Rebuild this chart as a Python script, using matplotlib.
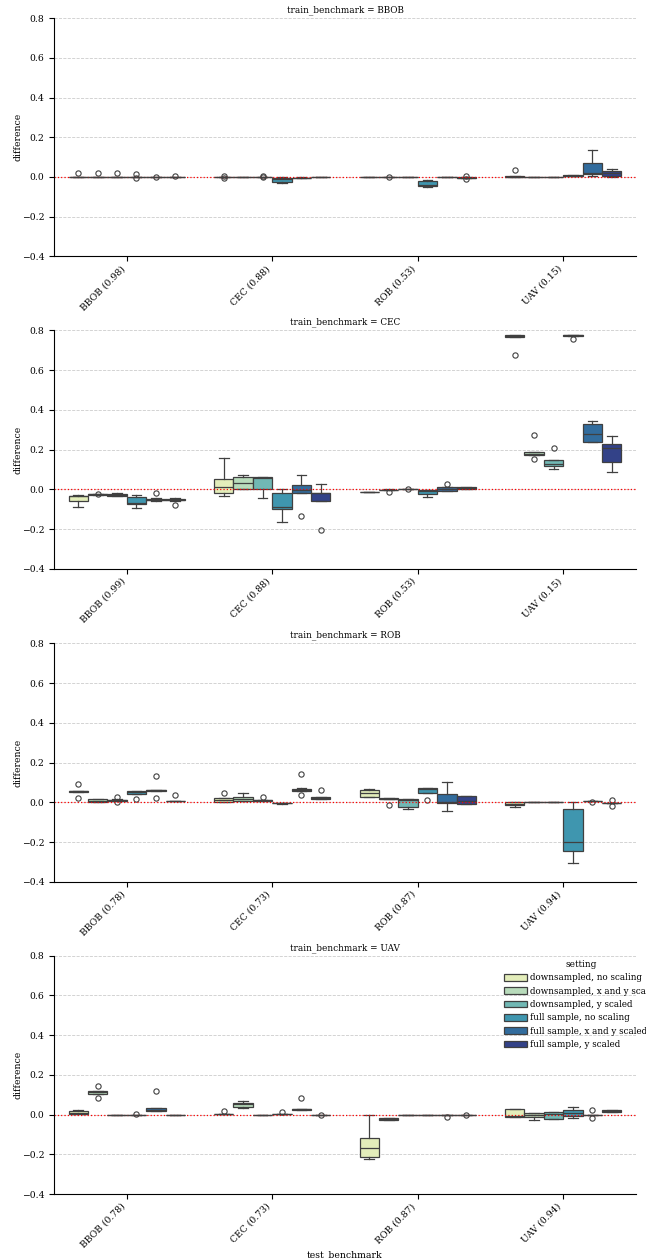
import matplotlib
matplotlib.use("Agg")
import matplotlib.pyplot as plt
import matplotlib.patches as patches
from matplotlib.transforms import Bbox, TransformedBbox
import seaborn as sns

plt.rcParams['font.family'] = ['DejaVu Serif']
plt.rcParams['font.size'] = 6.7

settings = ["downsampled, no scaling", "downsampled, x and y scaled",
            "downsampled, y scaled", "full sample, no scaling",
            "full sample, x and y scaled", "full sample, y scaled"]
train_benchmarks = ["BBOB", "CEC", "ROB", "UAV"]
test_labels = {
    "BBOB": ["BBOB (0.98)", "CEC (0.88)", "ROB (0.53)", "UAV (0.15)"],
    "CEC": ["BBOB (0.99)", "CEC (0.88)", "ROB (0.53)", "UAV (0.15)"],
    "ROB": ["BBOB (0.78)", "CEC (0.73)", "ROB (0.87)", "UAV (0.94)"],
    "UAV": ["BBOB (0.78)", "CEC (0.73)", "ROB (0.87)", "UAV (0.94)"],
}

# box stats per test benchmark, one tuple per setting: (whislo, q1, med, q3, whishi)
Z = (0.0, 0.0, 0.0, 0.0, 0.0)
bbob_boxes = [
    [Z, Z, Z, Z, Z, Z],
    [Z, (-0.002, -0.002, -0.001, 0.0, 0.0), Z,
     (-0.03, -0.023, -0.012, -0.003, 0.0), (-0.006, -0.005, -0.004, -0.003, -0.002), Z],
    [(-0.001, -0.001, -0.001, -0.001, -0.001), Z, Z,
     (-0.05, -0.047, -0.04, -0.02, -0.013), Z, (-0.005, -0.004, -0.003, -0.002, -0.001)],
    [(0.002, 0.002, 0.002, 0.003, 0.003), Z, Z,
     (0.003, 0.004, 0.007, 0.01, 0.011), (0.004, 0.013, 0.02, 0.07, 0.137),
     (0.0, 0.003, 0.02, 0.03, 0.04)],
]
bbob_fliers = [
    [[0.02], [0.02], [0.02], [0.015, -0.004], [-0.002], [0.005]],
    [[0.006, -0.006], [], [0.003, -0.002], [], [], []],
    [[], [0.001], [], [], [], [0.006, -0.009]],
    [[0.034], [], [], [], [], []],
]

cec_boxes = [
    [(-0.09, -0.06, -0.035, -0.032, -0.028), (-0.028, -0.027, -0.026, -0.025, -0.024),
     (-0.033, -0.032, -0.028, -0.022, -0.02), (-0.095, -0.075, -0.07, -0.04, -0.03),
     (-0.057, -0.055, -0.052, -0.048, -0.046), (-0.058, -0.056, -0.052, -0.048, -0.046)],
    [(-0.034, -0.02, 0.013, 0.054, 0.158), (0.003, 0.003, 0.032, 0.06, 0.074),
     (-0.044, 0.0, 0.058, 0.06, 0.064), (-0.166, -0.1, -0.087, -0.017, 0.003),
     (-0.02, -0.018, -0.005, 0.023, 0.072), (-0.059, -0.059, -0.02, -0.018, 0.025)],
    [(-0.016, -0.016, -0.015, -0.014, -0.014), (-0.004, -0.003, -0.003, -0.002, -0.001),
     (-0.001, 0.0, 0.0, 0.001, 0.001), (-0.039, -0.022, -0.01, -0.003, -0.002),
     (-0.01, -0.008, 0.003, 0.01, 0.012), (0.002, 0.003, 0.006, 0.01, 0.013)],
    [(0.765, 0.765, 0.772, 0.778, 0.778), (0.175, 0.175, 0.18, 0.188, 0.188),
     (0.104, 0.116, 0.125, 0.146, 0.146), (0.771, 0.772, 0.774, 0.776, 0.777),
     (0.237, 0.24, 0.277, 0.327, 0.344), (0.087, 0.138, 0.206, 0.226, 0.268)],
]
cec_fliers = [
    [[], [-0.022], [], [], [-0.018], [-0.077]],
    [[], [], [], [], [-0.132], [-0.206]],
    [[], [-0.012], [0.002], [], [0.028], []],
    [[0.676], [0.275, 0.153], [0.206], [0.756], [], []],
]

rob_boxes = [
    [(0.053, 0.054, 0.055, 0.056, 0.057), (0.003, 0.003, 0.008, 0.017, 0.017),
     (0.007, 0.008, 0.011, 0.014, 0.015), (0.042, 0.043, 0.05, 0.056, 0.057),
     (0.058, 0.059, 0.06, 0.061, 0.062), (0.005, 0.006, 0.007, 0.008, 0.009)],
    [(0.003, 0.003, 0.01, 0.02, 0.02), (0.005, 0.005, 0.018, 0.025, 0.045),
     (0.005, 0.006, 0.01, 0.013, 0.014), (-0.007, -0.006, -0.005, -0.004, -0.003),
     (0.057, 0.058, 0.063, 0.069, 0.07), (0.017, 0.018, 0.022, 0.026, 0.027)],
    [(0.028, 0.028, 0.047, 0.06, 0.065), (0.015, 0.015, 0.019, 0.023, 0.023),
     (-0.035, -0.025, 0.01, 0.015, 0.015), (0.047, 0.047, 0.065, 0.072, 0.072),
     (-0.044, -0.003, 0.0, 0.04, 0.1), (-0.007, -0.007, 0.005, 0.03, 0.03)],
    [(-0.025, -0.015, -0.01, 0.0, 0.0), Z, (0.002, 0.002, 0.003, 0.004, 0.004),
     (-0.307, -0.247, -0.2, -0.032, 0.0), (0.005, 0.006, 0.007, 0.008, 0.009),
     (-0.006, -0.006, -0.005, -0.004, -0.004)],
]
rob_fliers = [
    [[0.092, 0.023], [], [0.025, 0.0], [0.017], [0.132, 0.023], [0.038]],
    [[0.049], [], [0.025], [], [0.144, 0.037], [0.06]],
    [[], [-0.015], [], [0.01], [], []],
    [[], [], [], [], [0.0], [0.01, -0.018]],
]

uav_boxes = [
    [(0.002, 0.002, 0.01, 0.02, 0.025), (0.106, 0.106, 0.113, 0.121, 0.121), Z, Z,
     (0.018, 0.018, 0.025, 0.035, 0.035), Z],
    [(0.004, 0.004, 0.005, 0.006, 0.006), (0.035, 0.04, 0.052, 0.059, 0.067), Z,
     (0.004, 0.004, 0.005, 0.006, 0.006), (0.023, 0.023, 0.027, 0.03, 0.03), Z],
    [(-0.225, -0.212, -0.17, -0.118, -0.003), (-0.027, -0.027, -0.022, -0.017, -0.017),
     Z, Z, Z, Z],
    [(-0.01, -0.01, -0.008, 0.027, 0.027), (-0.025, -0.012, 0.0, 0.008, 0.008),
     (-0.022, -0.022, 0.003, 0.015, 0.015), (-0.018, -0.007, 0.01, 0.023, 0.04), Z,
     (0.012, 0.012, 0.02, 0.025, 0.025)],
]
uav_fliers = [
    [[], [0.143, 0.082], [], [0.003], [0.119], []],
    [[0.017], [], [], [0.015], [0.085], [-0.001]],
    [[], [], [], [], [-0.01], [0.0]],
    [[], [], [], [], [0.023, -0.015], []],
]

all_boxes = {"BBOB": bbob_boxes, "CEC": cec_boxes, "ROB": rob_boxes, "UAV": uav_boxes}
all_fliers = {"BBOB": bbob_fliers, "CEC": cec_fliers, "ROB": rob_fliers, "UAV": uav_fliers}

colors = [sns.desaturate(c, 0.75) for c in sns.color_palette("YlGnBu", len(settings))]
line_col = "#404040"

fig = plt.figure(figsize=(6.59, 12.6), dpi=100)
ax_left, ax_w, ax_h = 54 / 659, 582 / 659, 238.5 / 1260
tops = [18, 330.3, 643.3, 955.7]

n = len(settings)
width = 0.8 / n
for r, train in enumerate(train_benchmarks):
    ax = fig.add_axes([ax_left, 1 - (tops[r] + 238.5) / 1260, ax_w, ax_h])
    ax.set_axisbelow(True)
    ax.yaxis.grid(True, linestyle='--', color='#cccccc', linewidth=0.6)
    for i in range(4):
        for j in range(n):
            lo, q1, med, q3, hi = all_boxes[train][i][j]
            stats = [dict(whislo=lo, q1=q1, med=med, q3=q3, whishi=hi,
                          fliers=all_fliers[train][i][j])]
            pos = i - 0.4 + width * (j + 0.5)
            ax.bxp(stats, positions=[pos], widths=width, patch_artist=True,
                   manage_ticks=False,
                   boxprops=dict(facecolor=colors[j], edgecolor=line_col, linewidth=0.9),
                   medianprops=dict(color=line_col, linewidth=0.9),
                   whiskerprops=dict(color=line_col, linewidth=0.9),
                   capprops=dict(color=line_col, linewidth=0.9),
                   capwidths=width * 0.5,
                   flierprops=dict(marker='o', markersize=3.8, markerfacecolor='none',
                                   markeredgecolor=line_col, markeredgewidth=0.8))
    ax.axhline(0, color='red', linestyle=':', linewidth=0.9)
    ax.set_xlim(-0.5, 3.5)
    ax.set_ylim(-0.4, 0.8)
    ax.set_yticks([-0.4, -0.2, 0.0, 0.2, 0.4, 0.6, 0.8])
    ax.set_xticks(range(4))
    ax.set_xticklabels(test_labels[train], rotation=45, ha='right')
    ax.tick_params(axis='x', pad=2)
    ax.set_ylabel("difference", labelpad=-0.5)
    ax.set_title(f"train_benchmark = {train}", pad=4, fontsize=6.4)
    ax.spines['top'].set_visible(False)
    ax.spines['right'].set_visible(False)
    if r == 3:
        ax.set_xlabel("test_benchmark", labelpad=0)

handles = [patches.Patch(facecolor=c, edgecolor=line_col, linewidth=0.9) for c in colors]
leg = fig.legend(handles, settings, title="setting", loc='upper left',
                 bbox_to_anchor=(496 / 659, 1 - 952 / 1260), frameon=False,
                 fontsize=6.3, title_fontsize=6.4, labelspacing=0.5,
                 handlelength=2.6, handleheight=0.8, handletextpad=0.4)
clip = TransformedBbox(Bbox([[0, 0], [646 / 659, 1]]), fig.transFigure)
for t in leg.get_texts():
    t.set_clip_box(clip)
    t.set_clip_on(True)

fig.savefig("out.png", dpi=100)
